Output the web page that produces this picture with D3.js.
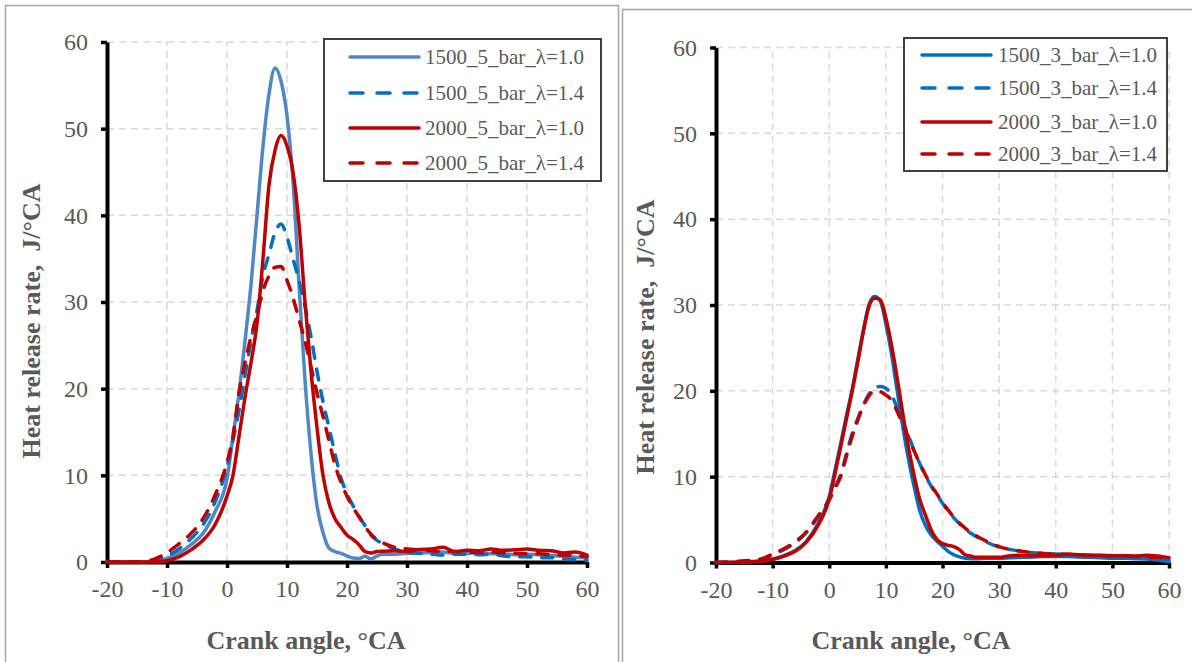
<!DOCTYPE html>
<html>
<head>
<meta charset="utf-8">
<script src="https://d3js.org/d3.v7.min.js"></script>
<style>
body { margin: 0; background: #fff; }
text { font-family: 'Liberation Serif', 'Times New Roman', serif; }
</style>
</head>
<body>
<script>
'use strict';

// crank angle grid shared by all curves (deg CA)
var angles = [-20, -15, -12, -10, -8, -6, -4, -2, 0,
	1, 2, 3, 4, 5, 6, 7, 8, 9, 10, 11, 12, 13,
	14, 15, 16, 17, 18, 19, 20, 21, 22, 23, 24, 25,
	26, 28, 30, 32, 34, 36, 38, 40, 42, 44, 46, 48, 50, 52, 54, 56, 58, 60];

var ticksX = [-20, -10, 0, 10, 20, 30, 40, 50, 60],
	ticksY = [0, 10, 20, 30, 40, 50, 60];

var names5bar = ['1500_5_bar_\u03bb=1.0', '1500_5_bar_\u03bb=1.4', '2000_5_bar_\u03bb=1.0', '2000_5_bar_\u03bb=1.4'],
	names3bar = ['1500_3_bar_\u03bb=1.0', '1500_3_bar_\u03bb=1.4', '2000_3_bar_\u03bb=1.0', '2000_3_bar_\u03bb=1.4'];

// heat release rate, J/deg CA
var hrr1500_5_l10 = [0, 0, 0.1, 0.4, 1.0, 2.0, 3.3, 5.8, 9.6,
	14.5, 19.5, 25.5, 32, 40, 48, 54, 57, 55.5, 51.5, 44, 32, 21,
	12.5, 6.5, 3.4, 1.6, 1.2, 1.0, 0.7, 0.45, 0.4, 0.65, 0.35, 0.7,
	0.9, 0.9, 1.0, 1.05, 1.1, 1.15, 1.0, 1.0, 1.05, 0.95, 0.95, 0.85, 0.9, 0.85, 0.75, 0.65, 0.55, 0.45];

var hrr1500_5_l14 = [0, 0, 0.2, 0.7, 1.5, 2.7, 4.3, 6.9, 11,
	14, 17.5, 21.5, 25.5, 29, 33, 35.5, 38, 39, 37.5, 35, 32.5, 29.5,
	26, 22, 18.5, 15.5, 12.5, 9.7, 7.9, 6.5, 5.3, 4.2, 3.1, 2.5,
	2.1, 1.5, 1.1, 1.0, 0.9, 0.8, 0.9, 0.9, 0.85, 0.9, 0.7, 0.6, 0.6, 0.5, 0.5, 0.35, 0.3, 0.2];

var hrr2000_5_l10 = [0, 0, 0, 0.15, 0.6, 1.4, 2.5, 4.3, 7.6,
	10, 14.5, 19, 23, 27.5, 35, 43.5, 47.5, 49.2, 48, 45, 39, 30,
	22, 15.5, 10, 6.8, 5.0, 4.0, 3.1, 2.6, 2.0, 1.2, 1.05, 1.2,
	1.25, 1.3, 1.2, 1.45, 1.5, 1.7, 1.2, 1.35, 1.3, 1.5, 1.35, 1.4, 1.5, 1.35, 1.3, 1.05, 1.15, 0.8];

var hrr2000_5_l14 = [0, 0, 0.35, 1.1, 2.1, 3.3, 5.0, 7.7, 11.5,
	14.5, 19.5, 23, 26, 28.5, 31.3, 33, 34, 34.1, 32.5, 30.5, 28, 25.5,
	22.5, 19.5, 16.8, 14, 11.2, 9.2, 7.6, 6.3, 5.2, 4.1, 3.2, 2.6,
	2.2, 1.7, 1.5, 1.4, 1.3, 1.2, 1.2, 1.15, 1.1, 1.15, 1.05, 1.0, 0.95, 0.95, 0.85, 0.8, 0.75, 0.6];

var hrr1500_3_l10 = [0, 0.05, 0.2, 0.4, 0.8, 1.4, 2.5, 4.5, 7.7,
	10.7, 13.8, 17, 20, 23.5, 27, 30, 31, 30.5, 27.8, 24.3, 20, 15.8,
	12, 8.8, 6.0, 4.3, 3.2, 2.5, 1.9, 1.3, 0.9, 0.65, 0.5, 0.45,
	0.45, 0.5, 0.5, 0.55, 0.6, 0.65, 0.7, 0.7, 0.7, 0.65, 0.6, 0.55, 0.5, 0.5, 0.45, 0.4, 0.3, 0.1];

var hrr1500_3_l14 = [0, 0.1, 0.4, 0.9, 1.5, 2.3, 3.5, 5.3, 7.4,
	8.8, 10.2, 12.6, 14.9, 16.7, 18.3, 19.6, 20.4, 20.5, 20.3, 19.5, 18, 16.3,
	14.8, 13, 11.5, 10.1, 8.9, 7.9, 6.9, 6.0, 5.2, 4.5, 3.9, 3.4,
	3.0, 2.3, 1.8, 1.5, 1.3, 1.15, 1.05, 1.0, 0.95, 0.9, 0.85, 0.8, 0.75, 0.7, 0.65, 0.55, 0.45, 0.3];

var hrr2000_3_l10 = [0, 0.05, 0.15, 0.35, 0.75, 1.3, 2.4, 4.3, 7.4,
	10.3, 13.4, 16.6, 19.8, 23.2, 26.8, 29.8, 30.8, 30.6, 28.5, 25.3, 21.5, 17.3,
	13.4, 10.1, 7.3, 5.5, 3.8, 2.7, 2.2, 2.0, 1.85, 1.5, 0.9, 0.75,
	0.6, 0.6, 0.6, 0.8, 0.85, 0.8, 0.85, 0.85, 0.95, 0.9, 0.85, 0.85, 0.8, 0.8, 0.75, 0.85, 0.75, 0.55];

var hrr2000_3_l14 = [0, 0.2, 0.4, 1.0, 1.6, 2.4, 3.6, 5.4, 7.3,
	8.6, 10.0, 12.3, 14.6, 16.5, 18.2, 19.4, 20.0, 19.9, 19.5, 18.9, 17.6, 16.1,
	14.6, 13.0, 11.5, 10.2, 9.0, 8.0, 7.0, 6.1, 5.3, 4.6, 4.0, 3.5,
	3.1, 2.4, 1.85, 1.5, 1.3, 1.15, 1.05, 1.0, 0.95, 0.9, 0.85, 0.8, 0.8, 0.75, 0.7, 0.65, 0.6, 0.5];

var steelBlue = '#4f88c6',
	blue = '#0070c0',
	red = '#c00000',
	grey = '#595959',
	dash = '11,11';

var svg = d3.select('body').append('svg')
	.attr('width', 1192)
	.attr('height', 662);

svg.append('rect')
	.attr('width', 1192)
	.attr('height', 662)
	.attr('fill', '#fff');

// layout of the two panels
var panels = [
	{
		frame: [5, 5, 613, 700],
		xRange: [107, 587],
		yRange: [562, 42],
		names: names5bar,
		values: [hrr1500_5_l10, hrr1500_5_l14, hrr2000_5_l10, hrr2000_5_l14],
		colors: [steelBlue, blue, red, red],
		legend: {x: 324, y: 39, w: 277, h: 142, rows: [57, 93, 128, 163], lx: [350, 419], tx: 425},
		yTitle: [31, 321],
		xTitle: [306, 649]
	},
	{
		frame: [622, 9, 600, 700],
		xRange: [716, 1169],
		yRange: [562.5, 47.5],
		names: names3bar,
		values: [hrr1500_3_l10, hrr1500_3_l14, hrr2000_3_l10, hrr2000_3_l14],
		colors: [blue, blue, red, red],
		legend: {x: 904, y: 38, w: 263, h: 133, rows: [55, 88, 122, 154], lx: [922, 991], tx: 998},
		yTitle: [645, 337],
		xTitle: [911, 649]
	}
];

panels.forEach(drawPanel);

/*
* Draws one framed panel: grid, axes, curves, legend and titles.
*/
function drawPanel(p) {

	var x = d3.scaleLinear().domain([-20, 60]).range(p.xRange),
		y = d3.scaleLinear().domain([0, 60]).range(p.yRange);

	var g = svg.append('g');

	// outer frame
	g.append('rect')
		.attr('x', p.frame[0] + 0.5)
		.attr('y', p.frame[1] + 0.5)
		.attr('width', p.frame[2])
		.attr('height', p.frame[3])
		.attr('fill', 'none')
		.attr('stroke', '#a6a6a6')
		.attr('stroke-width', 1.5);

	// dashed grid
	g.selectAll('.hgrid')
		.data(ticksY.slice(1)).enter()
		.append('line')
			.attr('x1', x(-20))
			.attr('x2', x(60))
			.attr('y1', function(d) { return y(d); })
			.attr('y2', function(d) { return y(d); });

	g.selectAll('.vgrid')
		.data(ticksX.slice(1)).enter()
		.append('line')
			.attr('x1', function(d) { return x(d); })
			.attr('x2', function(d) { return x(d); })
			.attr('y1', y(0))
			.attr('y2', y(60));

	g.selectAll('line')
		.attr('stroke', '#d9d9d9')
		.attr('stroke-width', 1.5)
		.attr('stroke-dasharray', '7,5');

	// axes, plain hyphen for negatives like the original
	var fmt = function(d) { return String(d); };

	var yAxis = g.append('g')
		.attr('transform', 'translate(' + x(-20) + ',0)')
		.call(d3.axisLeft(y).tickValues(ticksY).tickFormat(fmt)
			.tickSize(6).tickSizeOuter(0).tickPadding(13));

	var xAxis = g.append('g')
		.attr('transform', 'translate(0,' + y(0) + ')')
		.call(d3.axisBottom(x).tickValues(ticksX).tickFormat(fmt)
			.tickSize(6).tickSizeOuter(0).tickPadding(12));

	[xAxis, yAxis].forEach(function(a) {
		a.select('.domain').attr('stroke', '#000').attr('stroke-width', 4);
		a.selectAll('.tick line').attr('stroke', '#000').attr('stroke-width', 3.5);
		a.selectAll('.tick text')
			.attr('fill', grey)
			.style('font-size', '24px');
	});

	// curves
	var line = d3.line().curve(d3.curveMonotoneX)
		.x(function(d) { return x(d[0]); })
		.y(function(d) { return y(d[1]); });

	p.values.forEach(function(vals, i) {
		g.append('path')
			.datum(d3.zip(angles, vals))
			.attr('fill', 'none')
			.attr('stroke', p.colors[i])
			.attr('stroke-width', 3.5)
			.attr('stroke-linecap', 'round')
			.attr('stroke-linejoin', 'round')
			.attr('stroke-dasharray', i % 2 ? dash : null)
			.attr('d', line);
	});

	// legend
	var lg = p.legend;
	g.append('rect')
		.attr('x', lg.x)
		.attr('y', lg.y)
		.attr('width', lg.w)
		.attr('height', lg.h)
		.attr('fill', '#fff')
		.attr('stroke', '#404040')
		.attr('stroke-width', 2);

	p.names.forEach(function(name, i) {
		g.append('line')
			.attr('x1', lg.lx[0])
			.attr('x2', lg.lx[1])
			.attr('y1', lg.rows[i])
			.attr('y2', lg.rows[i])
			.attr('stroke', p.colors[i])
			.attr('stroke-width', 3.5)
			.attr('stroke-linecap', 'round')
			.attr('stroke-dasharray', i % 2 ? '13,14' : null);

		g.append('text')
			.attr('x', lg.tx)
			.attr('y', lg.rows[i])
			.attr('dy', '0.35em')
			.attr('fill', grey)
			.style('font-size', '21px')
			.text(name);
	});

	// axis titles
	g.append('text')
		.attr('transform', 'translate(' + p.yTitle[0] + ',' + p.yTitle[1] + ') rotate(-90)')
		.attr('text-anchor', 'middle')
		.attr('dy', '0.35em')
		.attr('fill', grey)
		.style('font-size', '26px')
		.style('font-weight', 'bold')
		.style('white-space', 'pre')
		.text('Heat release rate,  J/\u00b0CA');

	g.append('text')
		.attr('x', p.xTitle[0])
		.attr('y', p.xTitle[1])
		.attr('text-anchor', 'middle')
		.attr('fill', grey)
		.style('font-size', '26px')
		.style('font-weight', 'bold')
		.text('Crank angle, \u00b0CA');
}
</script>
</body>
</html>
